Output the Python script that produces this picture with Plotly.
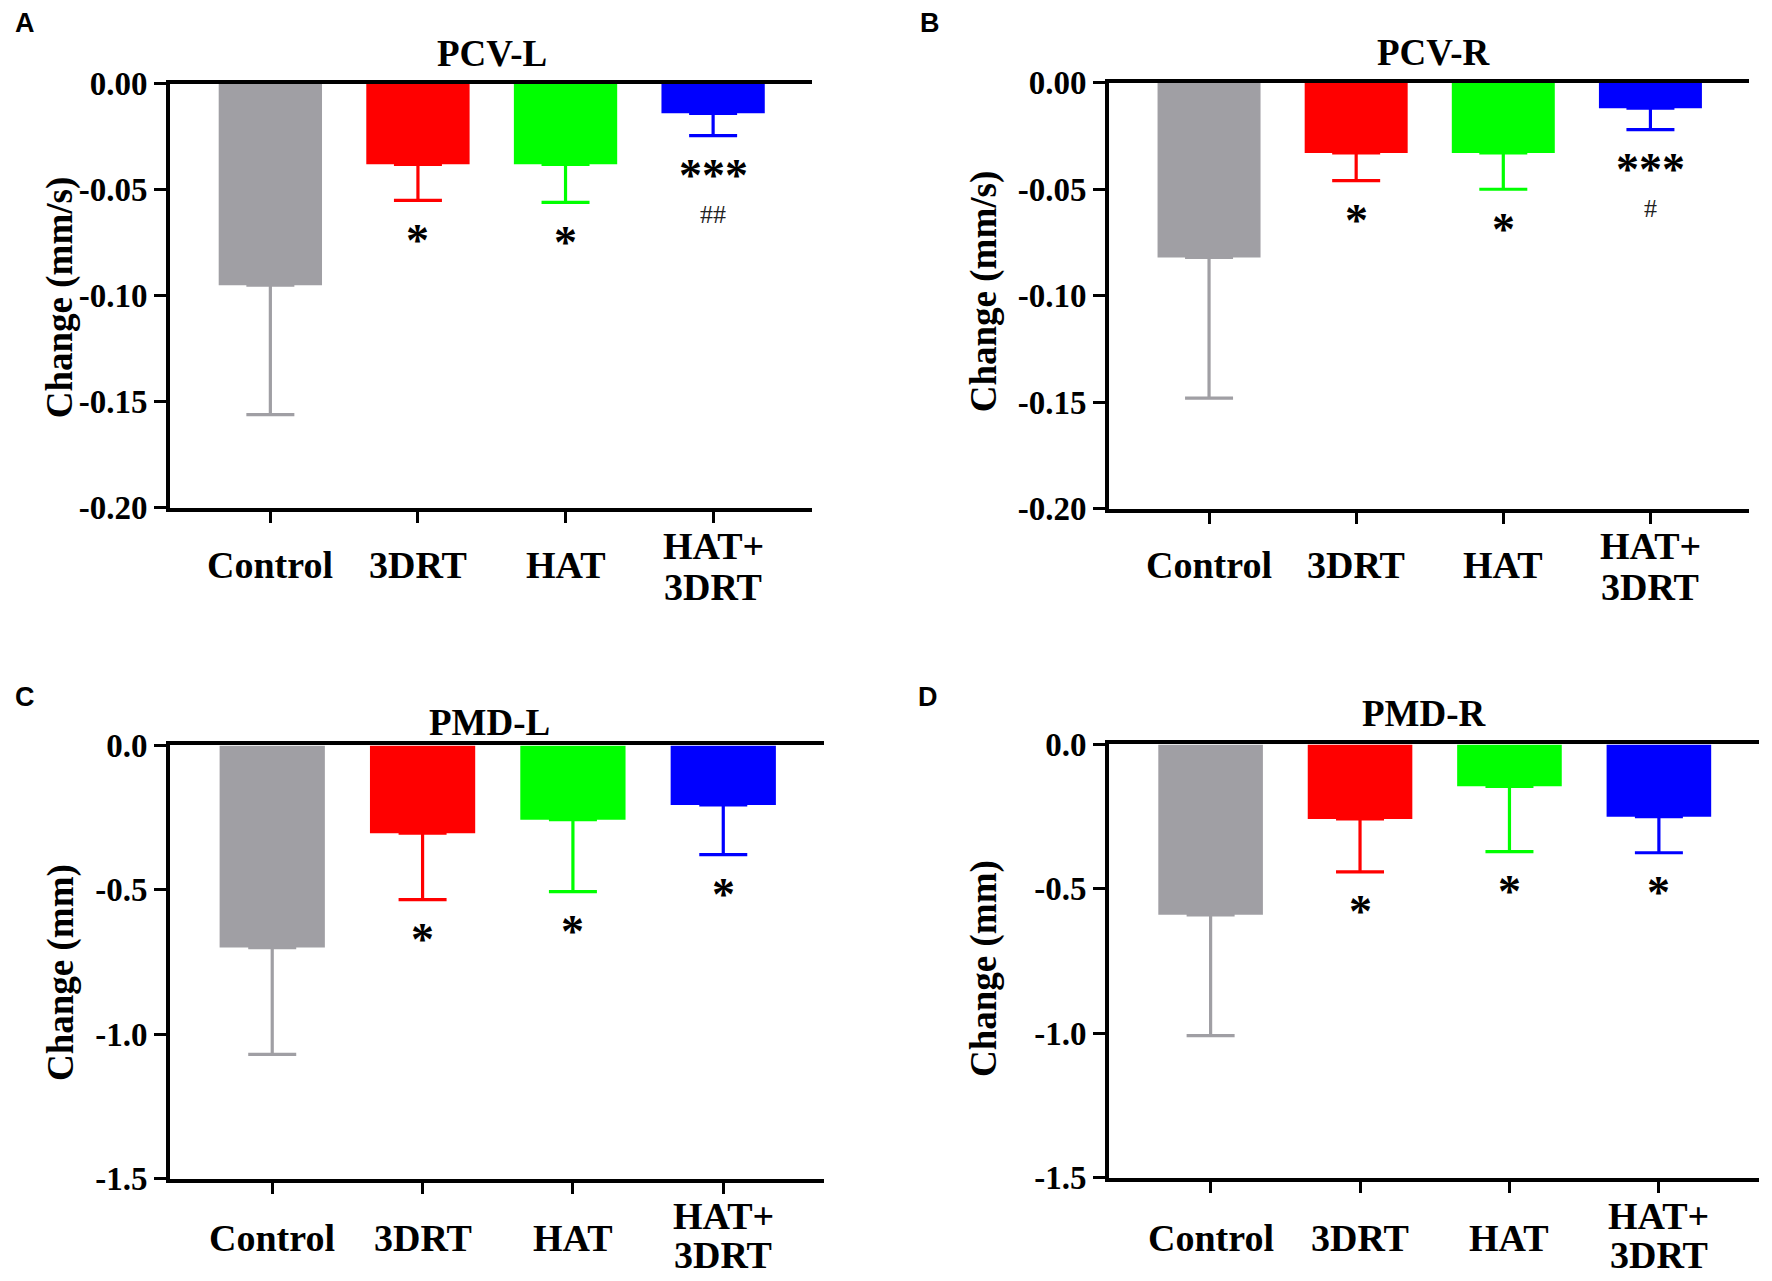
import plotly.graph_objects as go

W, H = 1772, 1281

categories = ["Control", "3DRT", "HAT", "HAT+<br>3DRT"]
bar_colors = ["#a09fa4", "#ff0000", "#00ff00", "#0000ff"]
err_colors = ["#a09fa4", "#ff0000", "#00ff00", "#0000ff"]

# Panel A  PCV-L  (mm/s)
pcv_l_mean = [-0.095, -0.038, -0.038, -0.014]
pcv_l_err = [0.061, 0.017, 0.018, 0.0105]
pcv_l_star = ["", "*", "*", "***"]
pcv_l_hash = ["", "", "", "##"]

# Panel B  PCV-R  (mm/s)
pcv_r_mean = [-0.082, -0.033, -0.033, -0.012]
pcv_r_err = [0.066, 0.013, 0.017, 0.010]
pcv_r_star = ["", "*", "*", "***"]
pcv_r_hash = ["", "", "", "#"]

# Panel C  PMD-L  (mm)
pmd_l_mean = [-0.70, -0.304, -0.257, -0.206]
pmd_l_err = [0.37, 0.23, 0.249, 0.172]
pmd_l_star = ["", "*", "*", "*"]
pmd_l_hash = ["", "", "", ""]

# Panel D  PMD-R  (mm)
pmd_r_mean = [-0.59, -0.258, -0.145, -0.25]
pmd_r_err = [0.418, 0.183, 0.226, 0.125]
pmd_r_star = ["", "*", "*", "*"]
pmd_r_hash = ["", "", "", ""]

pcv_ticks = [-0.20, -0.15, -0.10, -0.05, 0.00]
pcv_ticktext = ["-0.20", "-0.15", "-0.10", "-0.05", "0.00"]
pmd_ticks = [-1.5, -1.0, -0.5, 0.0]
pmd_ticktext = ["-1.5", "-1.0", "-0.5", "0.0"]

panels = [
    dict(letter="A", title="PCV-L", ytitle="Change (mm/s)", mean=pcv_l_mean, err=pcv_l_err,
         star=pcv_l_star, hsh=pcv_l_hash, ticks=pcv_ticks, ticktext=pcv_ticktext, yr=[-0.2, 0],
         x0=170, x1=812, yt=84, yb=509, tpos=(492, 54), lpos=(25, 23), ypos=(60, 298),
         cat_y=566, cat_lines=(547, 588)),
    dict(letter="B", title="PCV-R", ytitle="Change (mm/s)", mean=pcv_r_mean, err=pcv_r_err,
         star=pcv_r_star, hsh=pcv_r_hash, ticks=pcv_ticks, ticktext=pcv_ticktext, yr=[-0.2, 0],
         x0=1109, x1=1749, yt=83, yb=510, tpos=(1434, 53), lpos=(930, 23), ypos=(984, 292),
         cat_y=566, cat_lines=(547, 588)),
    dict(letter="C", title="PMD-L", ytitle="Change (mm)", mean=pmd_l_mean, err=pmd_l_err,
         star=pmd_l_star, hsh=pmd_l_hash, ticks=pmd_ticks, ticktext=pmd_ticktext, yr=[-1.5, 0],
         x0=170, x1=824, yt=747, yb=1181, tpos=(489, 724), lpos=(25, 698), ypos=(61, 975),
         cat_y=1240, cat_lines=(1218, 1257)),
    dict(letter="D", title="PMD-R", ytitle="Change (mm)", mean=pmd_r_mean, err=pmd_r_err,
         star=pmd_r_star, hsh=pmd_r_hash, ticks=pmd_ticks, ticktext=pmd_ticktext, yr=[-1.5, 0],
         x0=1109, x1=1759, yt=746, yb=1180, tpos=(1424, 715), lpos=(928, 698), ypos=(984, 970),
         cat_y=1240, cat_lines=(1218, 1257)),
]

SERIF = "Liberation Serif"
# vertical placement compensation for how the page is photographed
VS, VO = 0.9737, 17.2
fx = lambda px: px / W
fy = lambda py: 1 - ((py - VO) / VS) / H

fig = go.Figure()
annotations = []
layout = {}
xpos = list(range(len(categories)))
cat_font = dict(family=SERIF, size=38, color="black", weight="bold")

for i, p in enumerate(panels):
    n = "" if i == 0 else str(i + 1)
    xa, ya = "x" + n, "y" + n
    for j, cat in enumerate(categories):
        fig.add_trace(go.Bar(
            x=[xpos[j]], y=[p["mean"][j]], xaxis=xa, yaxis=ya, width=0.70,
            marker=dict(color=bar_colors[j], line=dict(width=0)),
            error_y=dict(type="data", symmetric=False, array=[0], arrayminus=[p["err"][j]],
                         color=err_colors[j], thickness=3.2, width=24),
            showlegend=False, name=cat.replace("<br>", " "),
        ))
        low = p["mean"][j] - p["err"][j]
        if p["star"][j]:
            annotations.append(dict(x=xpos[j], y=low, xref=xa, yref=ya, text=p["star"][j],
                                    showarrow=False, yanchor="middle", yshift=-40,
                                    font=dict(family=SERIF, size=46, color="black", weight="bold")))
        if p["hsh"][j]:
            annotations.append(dict(x=xpos[j], y=low, xref=xa, yref=ya, text=p["hsh"][j],
                                    showarrow=False, yanchor="middle", yshift=-79,
                                    font=dict(family=SERIF, size=26, color="#222222")))
        lines = cat.split("<br>")
        if len(lines) == 1:
            annotations.append(dict(x=xpos[j], y=fy(p["cat_y"]), xref=xa, yref="paper",
                                    text=lines[0], showarrow=False, yanchor="middle",
                                    xanchor="center", font=cat_font))
        else:
            for line, ly in zip(lines, p["cat_lines"]):
                annotations.append(dict(x=xpos[j], y=fy(ly), xref=xa, yref="paper",
                                        text=line, showarrow=False, yanchor="middle",
                                        xanchor="center", font=cat_font))
    layout["xaxis" + n] = dict(
        domain=[fx(p["x0"]), fx(p["x1"])], anchor=ya, range=[-0.68, 3.67],
        tickvals=xpos, showticklabels=False, ticks="outside", ticklen=11, tickwidth=3,
        tickcolor="black", showline=True, linecolor="black", linewidth=4, mirror=True,
        showgrid=False, zeroline=False, fixedrange=True)
    layout["yaxis" + n] = dict(
        domain=[fy(p["yb"]), fy(p["yt"])], anchor=xa, range=p["yr"],
        tickvals=p["ticks"], ticktext=p["ticktext"], ticks="outside", ticklen=12, tickwidth=3,
        tickcolor="black", showline=True, linecolor="black", linewidth=4,
        showgrid=False, zeroline=False, ticklabelstandoff=0,
        tickfont=dict(family=SERIF, size=33, color="black", weight="bold"))
    annotations.append(dict(x=fx(p["tpos"][0]), y=fy(p["tpos"][1]), xref="paper", yref="paper",
                            text=p["title"], showarrow=False, xanchor="center", yanchor="middle",
                            font=dict(family=SERIF, size=37, color="black", weight="bold")))
    annotations.append(dict(x=fx(p["lpos"][0]), y=fy(p["lpos"][1]), xref="paper", yref="paper",
                            text=p["letter"], showarrow=False, xanchor="center", yanchor="middle",
                            font=dict(family="Liberation Sans", size=27, color="black", weight="bold")))
    annotations.append(dict(x=fx(p["ypos"][0]), y=fy(p["ypos"][1]), xref="paper", yref="paper",
                            text=p["ytitle"], showarrow=False, textangle=-90,
                            xanchor="center", yanchor="middle",
                            font=dict(family=SERIF, size=37, color="black", weight="bold")))

fig.update_layout(width=W, height=H, margin=dict(l=0, r=0, t=0, b=0),
                  paper_bgcolor="white", plot_bgcolor="white", barmode="overlay",
                  annotations=annotations, **layout)
fig.write_html("out.html", config={"displayModeBar": False},
               post_script="document.body.style.margin='0px';document.body.style.overflow='hidden';")
